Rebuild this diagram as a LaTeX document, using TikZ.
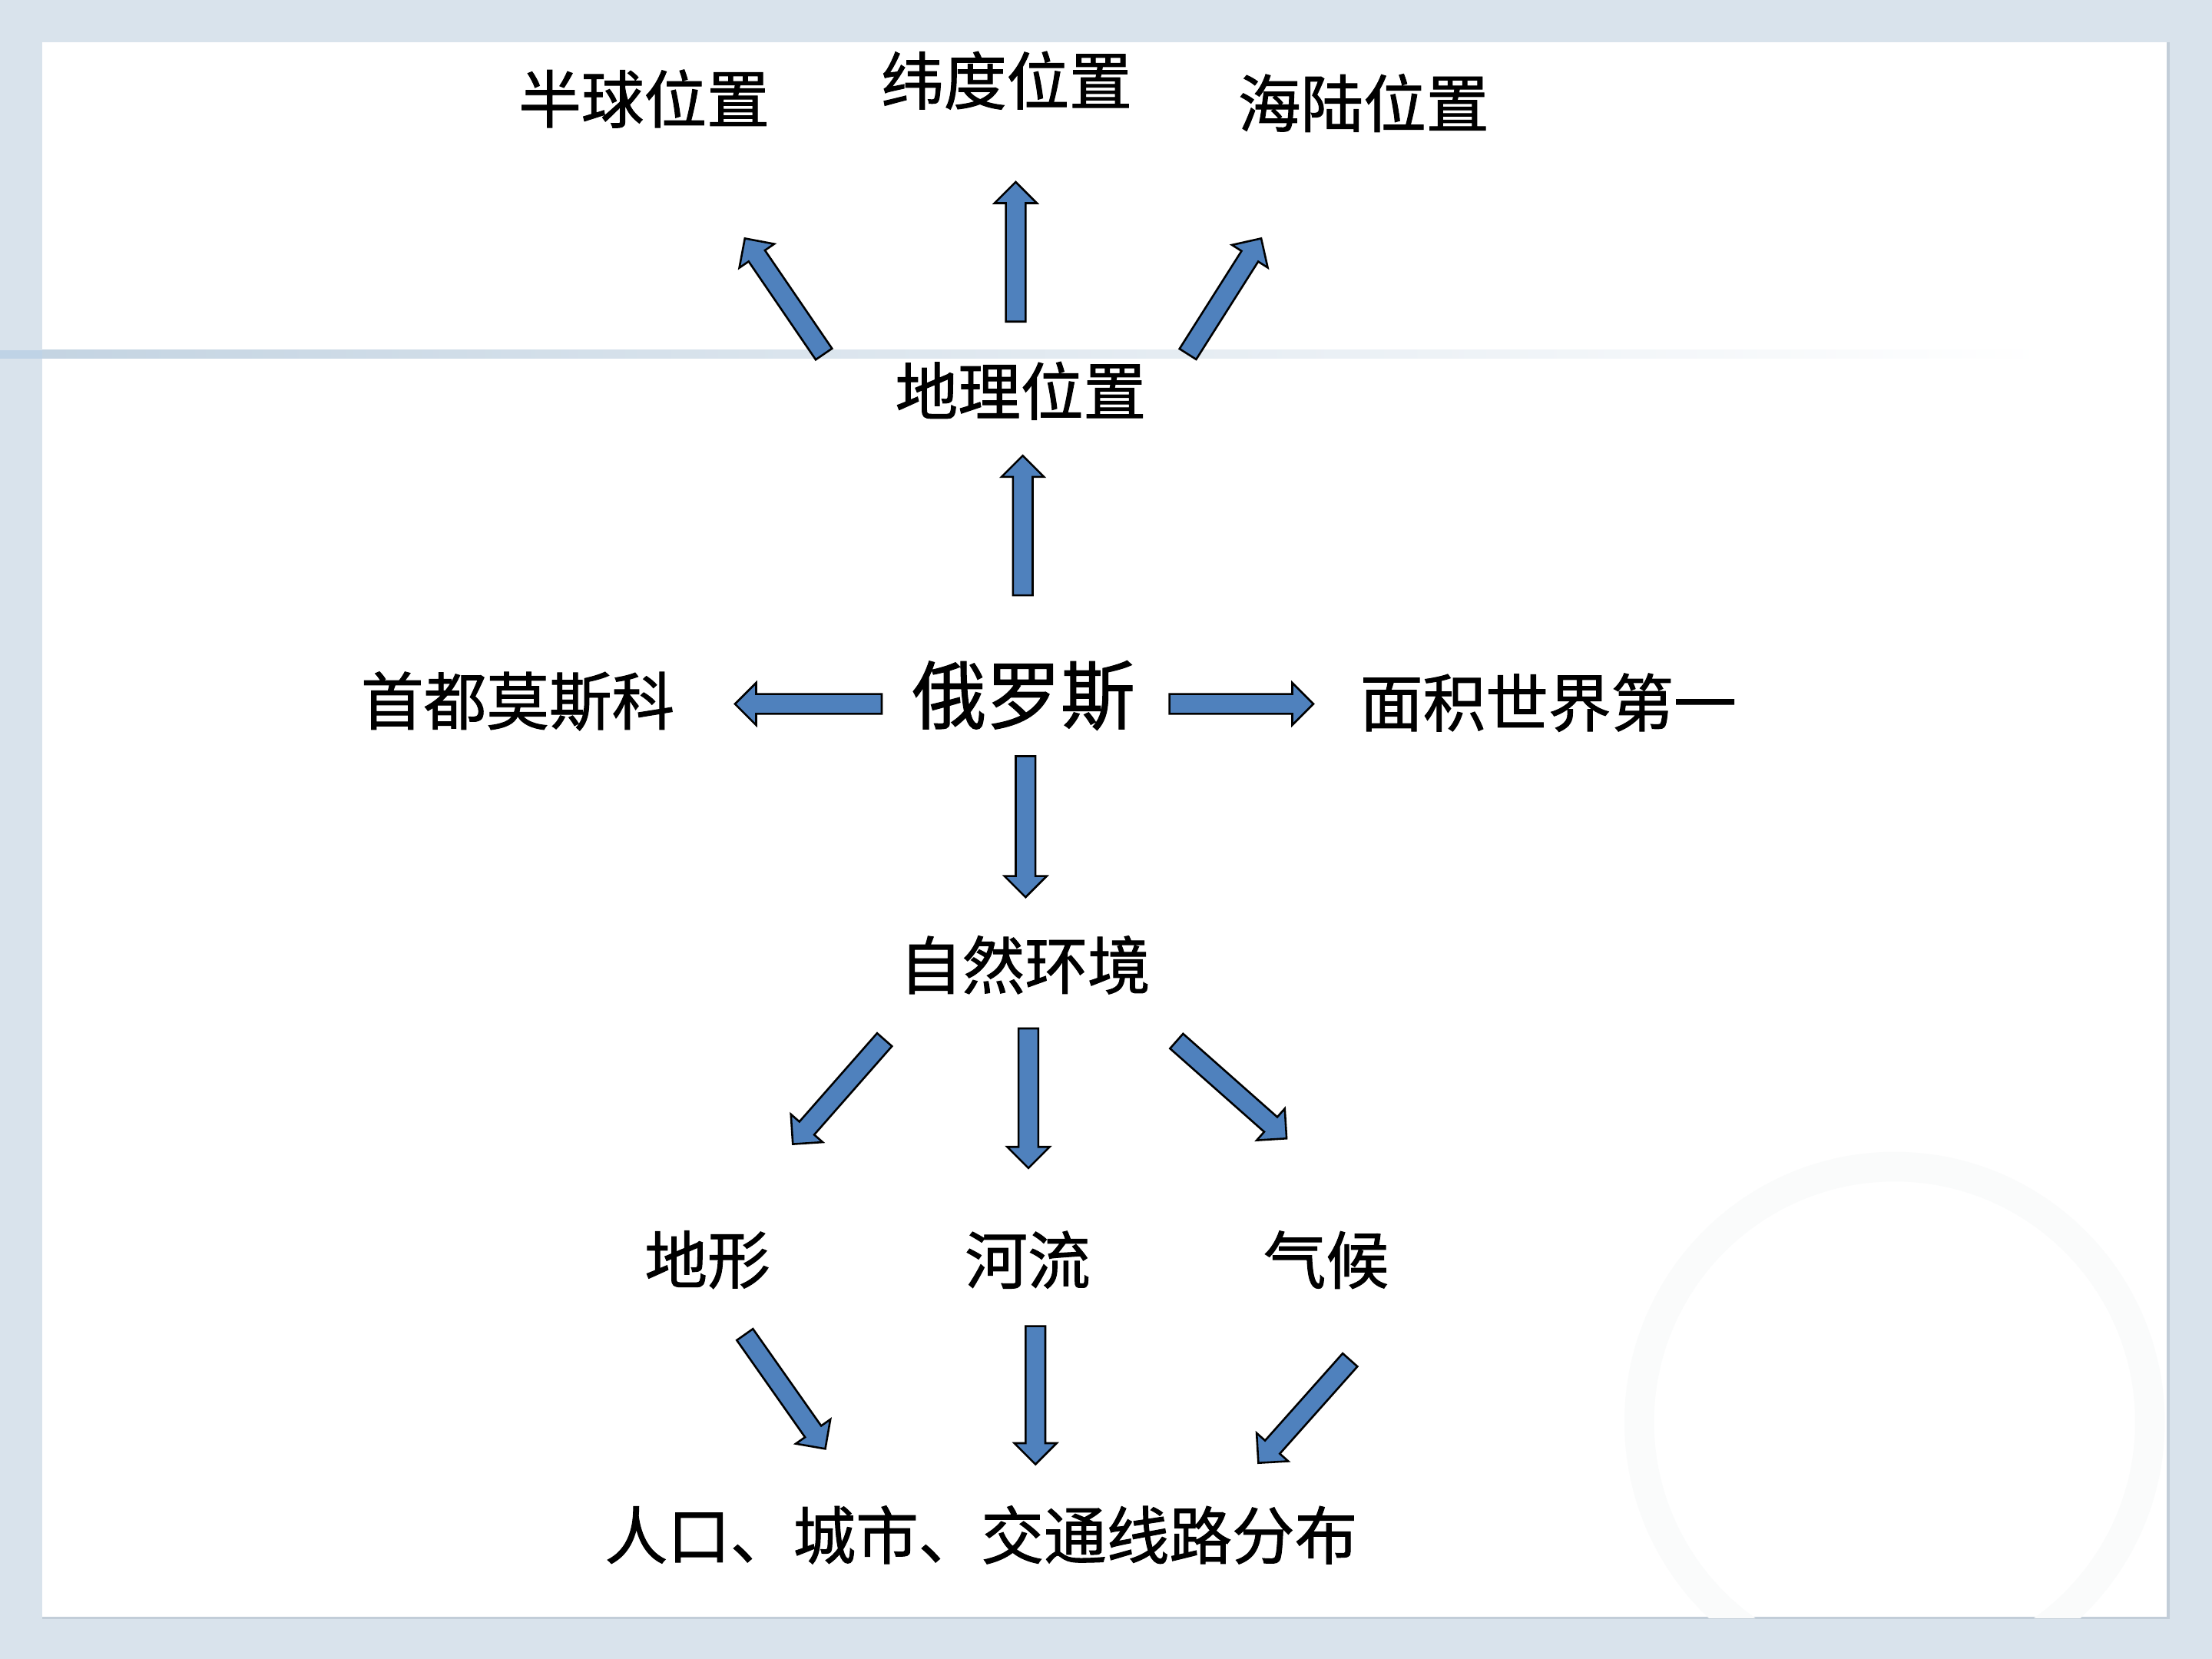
\documentclass[tikz,border=0pt]{standalone}
\usepackage{fontspec}
\setmainfont{Noto Sans CJK SC}[FakeBold=1.2]
\usetikzlibrary{calc}
\definecolor{bg}{HTML}{D9E3EC}
\definecolor{arrowfill}{HTML}{4F81BD}
\definecolor{bandc}{HTML}{C4D4E2}
\definecolor{bandleft}{HTML}{BFD3E6}
\definecolor{paneledge}{HTML}{C2CDD8}
\definecolor{wmarkcol}{HTML}{FAFBFB}
\tikzset{
  lbl/.style={inner sep=0pt, text=black, font=\fontsize{25.3}{25.3}\selectfont},
  biglbl/.style={inner sep=0pt, text=black, font=\fontsize{30}{30}\selectfont},
  barrow/.style={fill=arrowfill, draw=black, line width=0.8pt, line join=miter},
}
\newcommand{\blockarrow}[2]{%
  \coordinate (hb) at ($(#2)!0.3cm!(#1)$);
  \draw[barrow] ($(#1)!0.14cm!90:(#2)$) -- ($(hb)!0.14cm!90:(#2)$) -- ($(hb)!0.3cm!90:(#2)$) -- (#2)
     -- ($(hb)!0.3cm!-90:(#2)$) -- ($(hb)!0.14cm!-90:(#2)$) -- ($(#1)!0.14cm!-90:(#2)$) -- cycle;}
\begin{document}
\begin{tikzpicture}[x=0.02cm, y=-0.02cm]
% background
\fill[bg] (0,0) rectangle (1568,1176);
\useasboundingbox (0,0) rectangle (1568,1176);
\fill[white] (30,30) rectangle (1537,1147);
\draw[paneledge, line width=1pt] (30,1147) -- (1537,1147) -- (1537,30);
% faint watermark ring
\begin{scope}
  \clip (30,30) rectangle (1537,1147);
  \draw[wmarkcol, line width=0.42cm] (1343,1008) circle (181);
\end{scope}
% horizontal band
\fill[bandleft] (0,248) rectangle (30,254);
\shade[left color=bandc, right color=white] (30,248) rectangle (1450,254);

% labels
\node[lbl] (hemi) at (456.5,70) {半球位置};
\node[lbl] (lat) at (713.5,57) {纬度位置};
\node[lbl] (sealand) at (966.5,73) {海陆位置};
\node[lbl] (geo) at (723.5,277) {地理位置};
\node[lbl] (capital) at (367,497) {首都莫斯科};
\node[biglbl] (russia) at (725.5,493) {俄罗斯};
\node[lbl] (area) at (1097.5,498) {面积世界第一};
\node[lbl] (nature) at (726.5,684) {自然环境};
\node[lbl] (terrain) at (501.5,893) {地形};
\node[lbl] (river) at (728.5,893) {河流};
\node[lbl] (climate) at (940,893) {气候};
\node[lbl] (human) at (695.5,1088) {人口、城市、交通线路分布};

% arrow end points
\coordinate (a1s) at (584,251);   \coordinate (a1t) at (528,169);
\coordinate (a2s) at (720,228);   \coordinate (a2t) at (720,129);
\coordinate (a3s) at (842,251);   \coordinate (a3t) at (894,169);
\coordinate (a4s) at (725,422);   \coordinate (a4t) at (725,323);
\coordinate (a5s) at (625,499);   \coordinate (a5t) at (521,499);
\coordinate (a6s) at (829,499);   \coordinate (a6t) at (931,499);
\coordinate (a7s) at (727,536);   \coordinate (a7t) at (727,636);
\coordinate (a8s) at (627,737);   \coordinate (a8t) at (562,811);
\coordinate (a9s) at (729,729);   \coordinate (a9t) at (729,828);
\coordinate (a10s) at (834,738);  \coordinate (a10t) at (912,807);
\coordinate (a11s) at (528,946);  \coordinate (a11t) at (585,1027);
\coordinate (a12s) at (734,940);  \coordinate (a12t) at (734,1038);
\coordinate (a13s) at (957,964);  \coordinate (a13t) at (892,1037);

\blockarrow{a1s}{a1t}
\blockarrow{a2s}{a2t}
\blockarrow{a3s}{a3t}
\blockarrow{a4s}{a4t}
\blockarrow{a5s}{a5t}
\blockarrow{a6s}{a6t}
\blockarrow{a7s}{a7t}
\blockarrow{a8s}{a8t}
\blockarrow{a9s}{a9t}
\blockarrow{a10s}{a10t}
\blockarrow{a11s}{a11t}
\blockarrow{a12s}{a12t}
\blockarrow{a13s}{a13t}
\end{tikzpicture}
\end{document}
